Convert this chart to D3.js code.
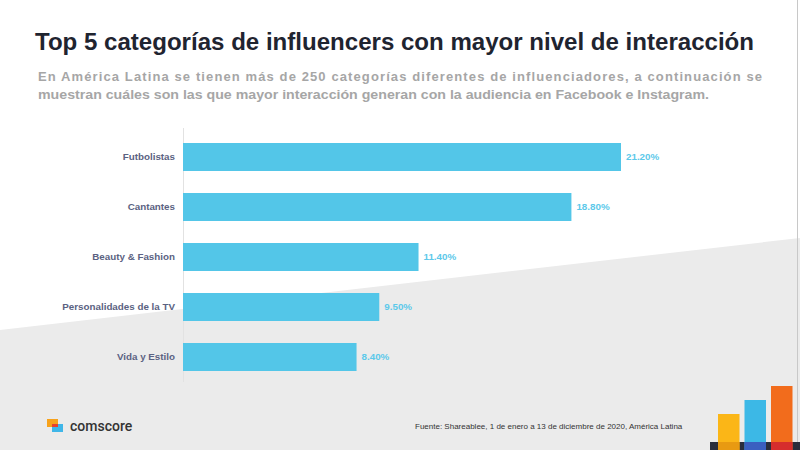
<!DOCTYPE html>
<html>
<head>
<meta charset="utf-8">
<script src="https://cdn.jsdelivr.net/npm/d3@7"></script>
<style>
  body { margin: 0; background: #fff; }
  svg { display: block; font-family: "Liberation Sans", Arial, sans-serif; }
</style>
</head>
<body>
<svg id="chart" width="800" height="450"></svg>
<script>
// datos del grafico
let categories = ['Futbolistas', 'Cantantes', 'Beauty & Fashion', 'Personalidades de la TV', 'Vida y Estilo'];
let values = [21.2, 18.8, 11.4, 9.5, 8.4];
let title = 'Top 5 categorías de influencers con mayor nivel de interacción';
let subtitle = ['En América Latina se tienen más de 250 categorías diferentes de influenciadores, a continuación se',
                'muestran cuáles son las que mayor interacción generan con la audiencia en Facebook e Instagram.'];
let source = 'Fuente: Shareablee, 1 de enero a 13 de diciembre de 2020, América Latina';
let decoBars = [36, 50, 64];
let decoColors = ['#fbb617', '#3cb8e6', '#f26c1c'];

const svg = d3.select('#chart');

// fondo gris inclinado
svg.append('path')
    .attr('d', 'M0,330 L800,238 L800,450 L0,450 Z')
    .attr('fill', '#ebebeb');
svg.append('line')
    .attr('x1', 797.5).attr('x2', 797.5).attr('y1', 0).attr('y2', 450)
    .attr('stroke', '#c8c8c8').attr('stroke-width', 1);

// titulo
svg.append('text')
    .attr('x', 35).attr('y', 50)
    .attr('textLength', 719).attr('lengthAdjust', 'spacingAndGlyphs')
    .style('font-size', '24px').style('font-weight', 'bold')
    .attr('fill', '#1f2430')
    .text(title);

svg.selectAll('text.sub')
    .data(subtitle)
    .join('text')
    .attr('class', 'sub')
    .attr('x', 38)
    .attr('y', (d, i) => 81 + i * 18)
    .attr('textLength', (d, i) => i === 0 ? 724 : 671)
    .attr('lengthAdjust', (d, i) => i === 0 ? 'spacing' : 'spacingAndGlyphs')
    .style('font-size', '13px').style('font-weight', 'bold')
    .attr('fill', '#a6a6a6')
    .text(d => d);

// escalas
const x = d3.scaleLinear()
    .domain([0, 21.2])
    .range([183, 621]);

const y = d3.scaleBand()
    .domain(categories)
    .range([132, 382])
    .paddingInner(0.44)
    .paddingOuter(0.22);

svg.append('line')
    .attr('x1', 183.5).attr('x2', 183.5).attr('y1', 128).attr('y2', 382)
    .attr('stroke', '#e2e2e2');

svg.append('g')
    .selectAll('rect')
    .data(values)
    .join('rect')
    .attr('x', x(0))
    .attr('y', (d, i) => y(categories[i]))
    .attr('width', d => x(d) - x(0))
    .attr('height', y.bandwidth())
    .attr('fill', '#53c6e8');

const yAxis = svg.append('g')
    .attr('transform', 'translate(183,0)')
    .call(d3.axisLeft(y).tickSize(0).tickPadding(8));
yAxis.select('.domain').remove();
yAxis.selectAll('text')
    .style('font-size', '9.8px').style('font-weight', 'bold')
    .style('font-family', '"Liberation Sans", Arial, sans-serif')
    .attr('fill', '#5b6282');

svg.append('g')
    .selectAll('text')
    .data(values)
    .join('text')
    .attr('x', d => x(d) + 5)
    .attr('y', (d, i) => y(categories[i]) + y.bandwidth() / 2)
    .attr('dy', '0.35em')
    .style('font-size', '9.8px').style('font-weight', 'bold')
    .attr('fill', '#5cc9ea')
    .text(d => d.toFixed(2) + '%');

// fuente
svg.append('text')
    .attr('x', 415).attr('y', 429)
    .style('font-size', '8px')
    .attr('fill', '#333')
    .text(source);

// logo comscore
svg.append('rect').attr('x', 47).attr('y', 419).attr('width', 11).attr('height', 8).attr('fill', '#f7a21b');
svg.append('rect').attr('x', 52).attr('y', 424).attr('width', 11).attr('height', 8).attr('fill', '#3fb6e8');
svg.append('rect').attr('x', 52).attr('y', 424).attr('width', 6).attr('height', 3).attr('fill', '#e8412c');
svg.append('text')
    .attr('x', 70).attr('y', 431)
    .style('font-size', '14px').style('font-weight', '500')
    .style('font-family', 'Roboto, "Liberation Sans", sans-serif')
    .attr('fill', '#333')
    .text('comscore');

// decoracion inferior derecha
svg.append('rect').attr('x', 710).attr('y', 442).attr('width', 90).attr('height', 8).attr('fill', '#2a2e3c');
const deco = svg.append('g');
deco.selectAll('rect.bar')
    .data(decoBars)
    .join('rect')
    .attr('class', 'bar')
    .attr('x', (d, i) => 718 + i * 26.5)
    .attr('y', d => 450 - d)
    .attr('width', 21.5)
    .attr('height', d => d)
    .attr('fill', (d, i) => decoColors[i]);
deco.selectAll('rect.base')
    .data(['#e89a12', '#3a5fc0', '#d62d2d'])
    .join('rect')
    .attr('class', 'base')
    .attr('x', (d, i) => 718 + i * 26.5)
    .attr('y', 442)
    .attr('width', 21.5)
    .attr('height', 8)
    .attr('fill', d => d);
</script>
</body>
</html>
